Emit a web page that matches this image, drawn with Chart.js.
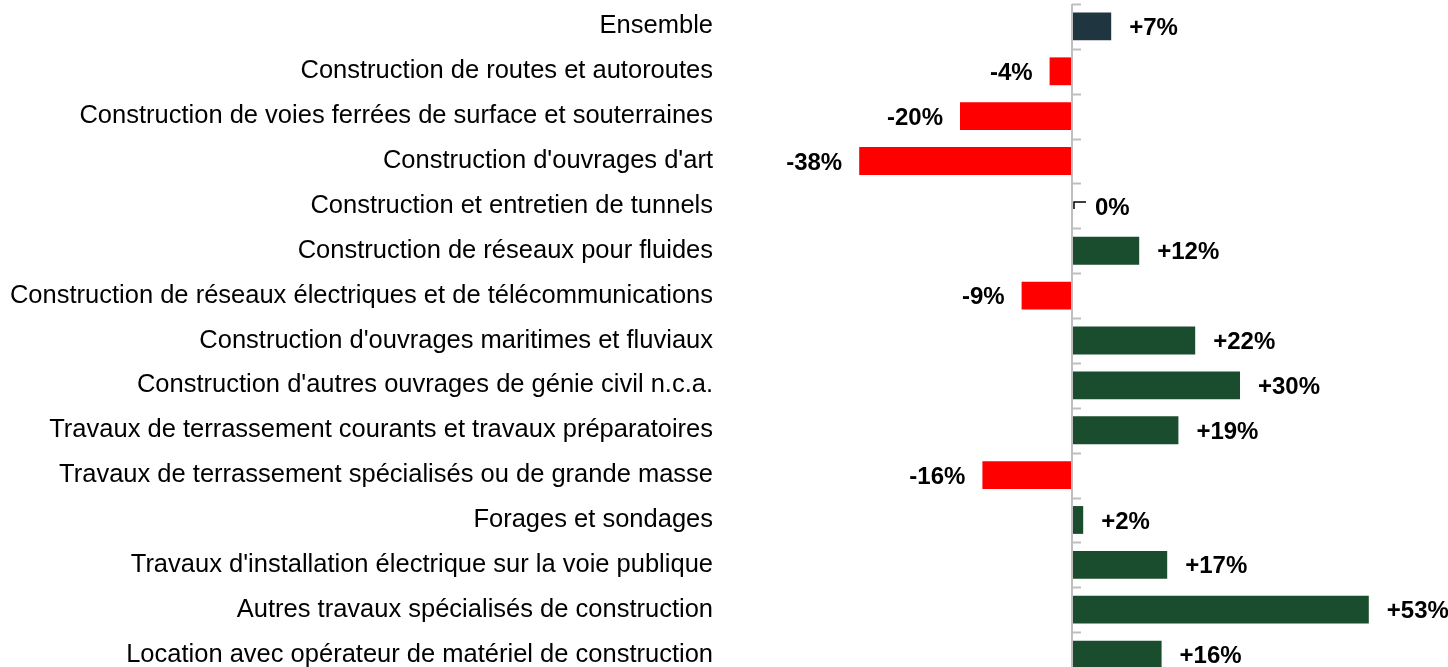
<!DOCTYPE html>
<html>
<head>
<meta charset="utf-8">
<script src="https://cdn.jsdelivr.net/npm/chart.js@4"></script>
<style>
  body { margin: 0; overflow: hidden; background: #fff; }
  #wrap { position: relative; width: 1448px; height: 680px; }
</style>
</head>
<body>
<div id="wrap"><canvas id="chart"></canvas></div>
<script>
const categories = [
	"Ensemble",
	"Construction de routes et autoroutes",
	"Construction de voies ferrées de surface et souterraines",
	"Construction d'ouvrages d'art",
	"Construction et entretien de tunnels",
	"Construction de réseaux pour fluides",
	"Construction de réseaux électriques et de télécommunications",
	"Construction d'ouvrages maritimes et fluviaux",
	"Construction d'autres ouvrages de génie civil n.c.a.",
	"Travaux de terrassement courants et travaux préparatoires",
	"Travaux de terrassement spécialisés ou de grande masse",
	"Forages et sondages",
	"Travaux d'installation électrique sur la voie publique",
	"Autres travaux spécialisés de construction",
	"Location avec opérateur de matériel de construction"
];
const variation = [7, -4, -20, -38, 0, 12, -9, 22, 30, 19, -16, 2, 17, 53, 16];

const color_total = "#1f3640";
const color_up = "#1a4d2e";
const color_down = "#ff0000";

const label_font = "'Liberation Sans', Arial, sans-serif";

let bar_colors = variation.map((v, i) => i === 0 ? color_total : (v < 0 ? color_down : color_up));

let fmt = (v) => (v > 0 ? "+" : "") + v + "%";

// axis line at zero with small ticks between categories, plus value labels
const decor_plugin = {
	id: "decor",
	afterDatasetsDraw(chart) {
		const ctx = chart.ctx;
		const x = chart.scales.x;
		const y = chart.scales.y;
		const x0 = x.getPixelForValue(0);
		const step = y.getPixelForValue(1) - y.getPixelForValue(0);

		ctx.save();
		ctx.strokeStyle = "#bfbfbf";
		ctx.lineWidth = 2;
		ctx.beginPath();
		ctx.moveTo(x0, chart.chartArea.top);
		ctx.lineTo(x0, chart.chartArea.bottom);
		for (let i = 0; i <= categories.length; i++) {
			const ty = Math.round(y.getPixelForValue(i) - step / 2) + 0.5;
			ctx.moveTo(x0, ty);
			ctx.lineTo(x0 + 9, ty);
		}
		ctx.stroke();

		const meta = chart.getDatasetMeta(0);
		ctx.font = "bold 24px " + label_font;
		ctx.fillStyle = "#000";
		ctx.textBaseline = "middle";
		meta.data.forEach((bar, i) => {
			const v = variation[i];
			const yy = bar.y + 2;
			if (v === 0) {
				ctx.strokeStyle = "#000";
				ctx.lineWidth = 1.5;
				ctx.beginPath();
				ctx.moveTo(x0 + 14, bar.y - 4);
				ctx.lineTo(x0 + 2, bar.y - 4);
				ctx.lineTo(x0 + 2, bar.y + 3);
				ctx.stroke();
				ctx.textAlign = "left";
				ctx.fillText(fmt(v), x0 + 23, yy);
			} else if (v > 0) {
				ctx.textAlign = "left";
				ctx.fillText(fmt(v), bar.x + 18, yy);
			} else {
				ctx.textAlign = "right";
				ctx.fillText(fmt(v), bar.x - 17, yy);
			}
		});
		ctx.restore();
	}
};

new Chart(document.getElementById("chart"), {
	type: "bar",
	data: {
		labels: categories,
		datasets: [{
			data: variation,
			backgroundColor: bar_colors,
			borderWidth: 0,
			categoryPercentage: 1,
			barPercentage: 0.62
		}]
	},
	options: {
		indexAxis: "y",
		responsive: true,
		maintainAspectRatio: false,
		animation: false,
		layout: { padding: { top: 4, bottom: 3, right: 12, left: 0 } },
		plugins: {
			legend: { display: false },
			tooltip: { enabled: false }
		},
		scales: {
			x: {
				min: -60,
				max: 65,
				display: false
			},
			y: {
				afterFit: (scale) => {
					scale.width = 736;
					scale.paddingTop = 0;
					scale.paddingBottom = 0;
				},
				grid: { display: false, drawTicks: false },
				border: { display: false },
				ticks: {
					padding: 23,
					color: "#000",
					font: { family: label_font, size: 25.5 }
				}
			}
		}
	},
	plugins: [decor_plugin]
});
</script>
</body>
</html>
